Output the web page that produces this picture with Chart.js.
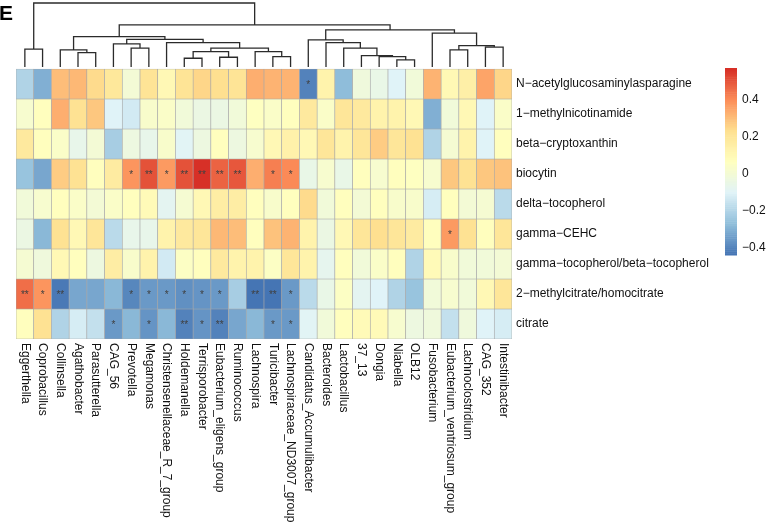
<!DOCTYPE html>
<html><head><meta charset="utf-8">
<script src="https://cdn.jsdelivr.net/npm/chart.js@4.4.1/dist/chart.umd.min.js"></script>
<style>html,body{margin:0;padding:0;background:#fff;}canvas{display:block;}</style>
</head><body>
<canvas id="c" width="767" height="530"></canvas>
<script>
// ---------------- DATA ----------------
const genera = ['Eggerthella','Coprobacillus','Collinsella','Agathobacter','Parasutterella','CAG_56','Prevotella','Megamonas','Christensenellaceae_R_7_group','Holdemanella','Terrisporobacter','Eubacterium_eligens_group','Ruminococcus','Lachnospira','Turicibacter','Lachnospiraceae_ND3007_group','Candidatus_Accumulibacter','Bacteroides','Lactobacillus','37_13','Dongia','Niabella','OLB12','Fusobacterium','Eubacterium_ventriosum_group','Lachnoclostridium','CAG_352','Intestinibacter'];
const metabolites = ['N−acetylglucosaminylasparagine','1−methylnicotinamide','beta−cryptoxanthin','biocytin','delta−tocopherol','gamma−CEHC','gamma−tocopherol/beta−tocopherol','2−methylcitrate/homocitrate','citrate'];

const corrNAcetyl     = [-0.20,-0.30,0.30,0.31,0.24,0.19,0.00,0.21,0.10,0.21,0.25,0.23,0.21,0.33,0.32,0.32,-0.40,0.13,-0.27,-0.02,-0.05,-0.10,-0.01,0.32,0.10,0.15,0.35,0.25];
const corrMethylnic   = [0.02,0.07,0.33,0.22,0.28,-0.10,-0.13,0.03,0.04,-0.01,-0.04,-0.04,-0.01,0.06,0.04,0.07,0.18,0.04,0.20,0.18,0.13,0.13,0.10,-0.30,-0.01,0.10,-0.10,0.04];
const corrCryptox     = [0.18,0.07,0.04,-0.06,0.00,-0.22,-0.03,-0.06,0.03,-0.09,-0.03,0.07,-0.03,0.02,0.10,0.14,0.10,0.20,0.13,0.20,0.27,0.20,0.22,-0.20,0.01,0.13,-0.10,0.07];
const corrBiocytin    = [-0.25,-0.32,0.27,0.22,0.07,0.17,0.38,0.50,0.37,0.50,0.57,0.47,0.49,0.33,0.42,0.40,-0.05,0.02,-0.05,0.07,0.02,0.07,0.06,0.02,0.28,0.22,0.28,0.29];
const corrDeltaToco   = [-0.01,0.02,0.07,0.04,0.00,0.04,0.07,0.09,-0.08,0.01,0.10,0.16,0.16,0.07,0.03,0.07,0.24,-0.01,0.07,0.00,0.07,0.03,0.03,-0.12,0.07,0.00,0.01,-0.18];
const corrGammaCEHC   = [-0.04,-0.28,0.22,0.10,0.20,-0.18,-0.06,-0.06,0.13,0.18,0.20,0.31,0.30,0.07,0.29,0.32,0.13,-0.04,0.10,0.20,0.23,0.20,0.17,0.07,0.37,0.22,0.07,0.20];
const corrGammaBeta   = [0.01,-0.02,0.10,0.07,-0.03,0.16,0.03,0.13,-0.13,0.05,0.07,0.18,0.13,0.13,0.05,0.20,0.13,-0.07,0.07,-0.01,0.04,0.07,-0.20,0.09,0.03,-0.01,-0.01,0.00];
const corrMethylcit   = [0.45,0.38,-0.42,-0.32,-0.32,-0.28,-0.39,-0.35,-0.35,-0.37,-0.36,-0.35,-0.22,-0.43,-0.44,-0.35,-0.18,-0.05,0.05,-0.08,-0.10,-0.20,-0.25,-0.01,0.02,-0.01,0.10,0.20];
const corrCitrate     = [0.07,0.22,-0.20,-0.12,-0.16,-0.35,-0.28,-0.36,-0.28,-0.40,-0.36,-0.40,-0.32,-0.28,-0.35,-0.35,-0.09,-0.01,0.07,0.09,0.09,0.02,-0.03,-0.02,-0.16,-0.02,-0.10,-0.12];

const sigNAcetyl   = ['','','','','','','','','','','','','','','','','*','','','','','','','','','','',''];
const sigMethylnic = ['','','','','','','','','','','','','','','','','','','','','','','','','','','',''];
const sigCryptox   = ['','','','','','','','','','','','','','','','','','','','','','','','','','','',''];
const sigBiocytin  = ['','','','','','','*','**','*','**','**','**','**','','*','*','','','','','','','','','','','',''];
const sigDeltaToco = ['','','','','','','','','','','','','','','','','','','','','','','','','','','',''];
const sigGammaCEHC = ['','','','','','','','','','','','','','','','','','','','','','','','','*','','',''];
const sigGammaBeta = ['','','','','','','','','','','','','','','','','','','','','','','','','','','',''];
const sigMethylcit = ['**','*','**','','','','*','*','*','*','*','*','','**','**','*','','','','','','','','','','','',''];
const sigCitrate   = ['','','','','','*','','*','','**','*','**','','','*','*','','','','','','','','','','','',''];

// column dendrogram (hclust style: negative = leaf, positive = earlier merge)
const colMerge = [[-1,-2],[-4,-5],[-3,2],[-7,-8],[-6,4],[-10,-11],[-12,-13],[6,7],[-15,-16],[-14,9],[8,10],[-9,11],[5,12],[3,13],
  [-22,-23],[-21,15],[-20,16],[-19,17],[-18,18],[-17,19],[-25,-26],[-27,-28],[21,22],[-24,23],[20,24],[14,25],[1,26]];
const colMergeHeight = [17.7,14.3,17.0,18.7,23.0,8.7,9.7,15.3,10.3,15.3,18.7,24.3,27.5,30.3,
  7.0,10.3,11.3,18.7,24.3,27.0,17.0,19.7,21.3,33.7,37.0,42.0,63.7];

const legendTicks = [0.4, 0.2, 0, -0.2, -0.4];

// ---------------- LAYOUT / STYLE ----------------
const corrRows = [corrNAcetyl,corrMethylnic,corrCryptox,corrBiocytin,corrDeltaToco,corrGammaCEHC,corrGammaBeta,corrMethylcit,corrCitrate];
const sigRows = [sigNAcetyl,sigMethylnic,sigCryptox,sigBiocytin,sigDeltaToco,sigGammaCEHC,sigGammaBeta,sigMethylcit,sigCitrate];
const palette = ['#4575B4','#91BFDB','#E0F3F8','#FFFFBF','#FEE090','#FC8D59','#D73027'];
const FONT = '"Liberation Sans", Arial, Helvetica, sans-serif';
const L = {left:16, top:3, chartBottom:339, rightAxisW:255, dendroPx:64, rowPx:30,
           legX:725, legW:12, legTop:68, legH:187, colLabelY:343};
const nRows = metabolites.length, nCols = genera.length;
const chartH = L.chartBottom - L.top;
const heatH = nRows * L.rowPx;

const allVals = corrRows.flat();
const vMin = Math.min(...allVals), vMax = Math.max(...allVals);

function hex2rgb(h){return [1,3,5].map(i=>parseInt(h.substr(i,2),16));}
const palRGB = palette.map(hex2rgb);
function ramp(t){
  const s = t*(palRGB.length-1), i = Math.min(palRGB.length-2, Math.floor(s)), f = s-i;
  const c = palRGB[i].map((v,k)=>Math.round(v+(palRGB[i+1][k]-v)*f));
  return `rgb(${c[0]},${c[1]},${c[2]})`;
}
const binColors = Array.from({length:100},(_,k)=>ramp(k/99));
function colorFor(v){
  const k = Math.max(0, Math.min(99, Math.floor((v-vMin)/(vMax-vMin)*100)));
  return binColors[k];
}
const rowBottom = r => nRows - 1 - r;

// heatmap cells as floating bars
const heatDatasets = metabolites.map((name, r) => ({
  type:'bar', label:name, yAxisID:'y', grouped:false,
  data: genera.map((g, j) => ({x:j, y:[rowBottom(r), rowBottom(r)+1]})),
  backgroundColor: corrRows[r].map(colorFor),
  borderColor:'#A8A8A8', borderWidth:0.65, borderSkipped:false,
  barPercentage:1, categoryPercentage:1
}));

// dendrogram segments
function dendroPoints(){
  const pos=[], ht=[], pts=[];
  const node = id => id < 0 ? {x:-id-1, h:0} : {x:pos[id-1], h:ht[id-1]};
  colMerge.forEach(([a,b],k)=>{
    const A=node(a), B=node(b), h=colMergeHeight[k];
    pts.push({x:A.x,y:A.h},{x:A.x,y:h},{x:B.x,y:h},{x:B.x,y:B.h},{x:B.x,y:null});
    pos.push((A.x+B.x)/2); ht.push(h);
  });
  return pts;
}
const hMax = Math.max(...colMergeHeight);
const dendroDataset = {type:'line', label:'dendrogram', yAxisID:'yd', data:dendroPoints(),
  borderColor:'#2b2b2b', borderWidth:1.3, pointRadius:0, tension:0, fill:false, spanGaps:false, clip:false};

const overlay = {
  id:'overlay',
  afterDraw(chart){
    const {ctx, scales:{x, y}} = chart;
    ctx.save();
    // significance marks
    ctx.font = '10px ' + FONT; ctx.fillStyle = '#404040';
    ctx.textAlign='center'; ctx.textBaseline='middle';
    sigRows.forEach((row, r)=>row.forEach((s, j)=>{
      if (s) ctx.fillText(s, x.getPixelForValue(j), y.getPixelForValue(rowBottom(r)+0.5)+1);
    }));
    // column labels (rotated clockwise)
    ctx.font = '12px ' + FONT; ctx.fillStyle = '#111';
    ctx.textAlign='left'; ctx.textBaseline='middle';
    genera.forEach((g, j)=>{
      ctx.save();
      ctx.translate(x.getPixelForValue(j), L.colLabelY);
      ctx.rotate(Math.PI/2);
      ctx.fillText(g, 0, 0);
      ctx.restore();
    });
    // colour legend
    const yOf = v => L.legTop + L.legH - (v - vMin)/(vMax - vMin)*L.legH;
    for (let k=0;k<100;k++){
      const v0 = vMin + (vMax-vMin)*k/100, v1 = vMin + (vMax-vMin)*(k+1)/100;
      ctx.fillStyle = binColors[k];
      ctx.fillRect(L.legX, yOf(v1), L.legW, yOf(v0)-yOf(v1)+0.5);
    }
    ctx.fillStyle = '#111'; ctx.font = '12px ' + FONT;
    ctx.textAlign='left'; ctx.textBaseline='middle';
    legendTicks.forEach(t=>{
      ctx.fillText(String(t).replace('-', '\u2212'), L.legX + L.legW + 5, yOf(t));
    });
    // panel letter
    ctx.font = 'bold 21px ' + FONT; ctx.textBaseline='alphabetic';
    ctx.fillStyle = '#000';
    ctx.fillText('E', -1, 20);
    ctx.restore();
  }
};

new Chart(document.getElementById('c'), {
  type:'bar',
  data:{datasets:[...heatDatasets, dendroDataset]},
  options:{
    responsive:false, animation:false, devicePixelRatio:1,
    layout:{padding:{left:L.left, top:L.top, right:0, bottom:530 - L.chartBottom}},
    plugins:{legend:{display:false}, tooltip:{enabled:false}},
    scales:{
      x:{type:'linear', offset:false, min:-0.5, max:nCols-0.5, display:false},
      y:{type:'linear', position:'right', min:0, max:nRows*chartH/heatH,
         grid:{display:false, drawTicks:false}, border:{display:false},
         ticks:{autoSkip:false, padding:4, color:'#111', font:{family:FONT, size:12},
                callback:(v)=>metabolites[nRows - 1 - Math.floor(v)]},
         afterBuildTicks:(axis)=>{axis.ticks = metabolites.map((m,r)=>({value:rowBottom(r)+0.5}));},
         afterFit:(axis)=>{axis.width = L.rightAxisW; axis.paddingTop = 0; axis.paddingBottom = 0;}},
      yd:{type:'linear', display:false, max:hMax, min:hMax - chartH*hMax/L.dendroPx}
    }
  },
  plugins:[overlay]
});
</script>
</body></html>
